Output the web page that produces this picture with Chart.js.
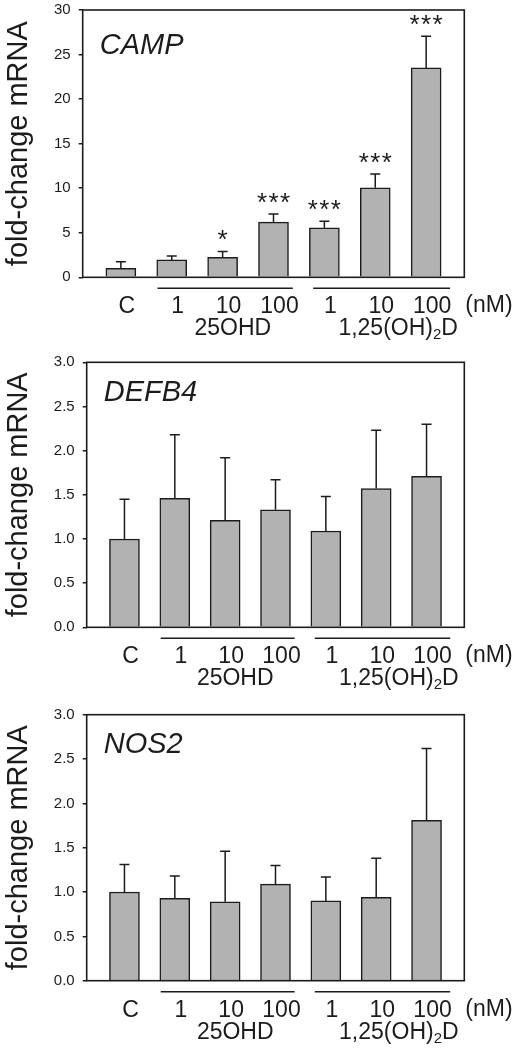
<!DOCTYPE html>
<html>
<head>
<meta charset="utf-8">
<script src="https://cdn.jsdelivr.net/npm/chart.js@4.4.1/dist/chart.umd.min.js"></script>
<style>
  body { margin: 0; background: #fff; width: 526px; height: 1050px; position: relative; overflow: hidden; }
  canvas { position: absolute; left: 0; }
</style>
</head>
<body>
<canvas id="camp" width="526" height="352" style="top:-7px"></canvas>
<canvas id="defb4" width="526" height="345" style="top:345px"></canvas>
<canvas id="nos2" width="526" height="360" style="top:690px"></canvas>
<script>
// dose labels under the bars
const doseLabels = ['C', '1', '10', '100', '1', '10', '100'];

// CAMP
const campMean = [1.0, 1.95, 2.25, 6.2, 5.55, 10.05, 23.5];
const campSd = [0.75, 0.45, 0.65, 0.9, 0.75, 1.55, 3.55];
const campStars = ['', '', '*', '***', '***', '***', '***'];

// DEFB4
const defb4Mean = [1.0, 1.46, 1.21, 1.33, 1.09, 1.57, 1.71];
const defb4Sd = [0.45, 0.72, 0.71, 0.34, 0.39, 0.66, 0.59];

// NOS2
const nos2Mean = [1.0, 0.93, 0.89, 1.09, 0.90, 0.94, 1.81];
const nos2Sd = [0.31, 0.25, 0.57, 0.21, 0.27, 0.44, 0.81];

const ink = '#1c1c1c';
const font = "'Liberation Sans', Arial, Helvetica, sans-serif";

const figurePlugin = {
  id: 'figure',
  afterDatasetsDraw(chart, args, o) {
    const { ctx, chartArea: a, scales: { x, y } } = chart;
    const mean = chart.data.datasets[0].data;
    ctx.save();
    ctx.strokeStyle = ink;
    ctx.fillStyle = ink;
    ctx.lineWidth = 1.5;

    // error bars (upper only) and significance stars
    o.sd.forEach((s, i) => {
      const px = x.getPixelForValue(i);
      const y0 = y.getPixelForValue(mean[i].y);
      const y1 = y.getPixelForValue(mean[i].y + s);
      ctx.beginPath();
      ctx.moveTo(px, y0); ctx.lineTo(px, y1);
      ctx.moveTo(px - 5, y1); ctx.lineTo(px + 5, y1);
      ctx.stroke();
      const st = (o.stars || [])[i] || '';
      ctx.font = '26px ' + font;
      ctx.textAlign = 'center';
      ctx.textBaseline = 'alphabetic';
      for (let k = 0; k < st.length; k++) {
        ctx.fillText('*', px + (k - (st.length - 1) / 2) * 11.5, y1 - 3);
      }
    });

    // frame
    ctx.lineWidth = 1.6;
    ctx.strokeRect(a.left, a.top, a.right - a.left, a.bottom - a.top);

    // gene name
    ctx.font = 'italic 29px ' + font;
    ctx.textAlign = 'left';
    ctx.fillText(o.gene, a.left + 17, a.top + o.geneY);

    // group lines
    ctx.lineWidth = 1.5;
    const gy = a.bottom + 11;
    [[0.72, 3.38], [3.78, 6.47]].forEach(([s, e]) => {
      ctx.beginPath();
      ctx.moveTo(x.getPixelForValue(s), gy);
      ctx.lineTo(x.getPixelForValue(e), gy);
      ctx.stroke();
    });

    // (nM)
    ctx.font = '23px ' + font;
    ctx.fillText('(nM)', a.right + 1, a.bottom + 35);

    // group names
    const by = a.bottom + 58;
    ctx.textAlign = 'center';
    ctx.fillText('25OHD', x.getPixelForValue(2.2), by);
    ctx.textAlign = 'left';
    const w1 = ctx.measureText('1,25(OH)').width;
    ctx.font = '15px ' + font;
    const w2 = ctx.measureText('2').width;
    ctx.font = '23px ' + font;
    const w3 = ctx.measureText('D').width;
    let sx = x.getPixelForValue(5.45) - (w1 + w2 + w3) / 2;
    ctx.fillText('1,25(OH)', sx, by);
    ctx.font = '15px ' + font;
    ctx.fillText('2', sx + w1, by + 4);
    ctx.font = '23px ' + font;
    ctx.fillText('D', sx + w1 + w2, by);
    ctx.restore();
  }
};

function makeChart(id, mean, sd, stars, gene, yMax, step, dec, box) {
  new Chart(document.getElementById(id), {
    type: 'bar',
    data: {
      datasets: [{
        data: mean.map((v, i) => ({ x: i, y: v })),
        backgroundColor: '#b2b2b2',
        borderColor: ink,
        borderWidth: 1.5,
        barThickness: 30
      }]
    },
    options: {
      responsive: false,
      animation: false,
      layout: { padding: { top: box.top, right: box.right, left: 0, bottom: 0 } },
      plugins: {
        legend: { display: false },
        tooltip: { enabled: false },
        figure: { sd: sd, stars: stars, gene: gene, geneY: box.geneY }
      },
      scales: {
        x: {
          type: 'linear',
          offset: false,
          min: -0.75,
          max: 6.75,
          grid: { display: false },
          border: { display: false },
          afterBuildTicks: (s) => { s.ticks = doseLabels.map((_, i) => ({ value: i })); },
          afterFit: (s) => { s.height = box.xh; },
          ticks: {
            color: ink,
            font: { family: font, size: 23 },
            padding: 8,
            labelOffset: 6,
            maxRotation: 0,
            autoSkip: false,
            callback: (v, i) => doseLabels[i]
          }
        },
        y: {
          min: 0,
          max: yMax,
          border: { display: false },
          grid: { drawOnChartArea: false, drawTicks: true, tickLength: 4, color: ink, lineWidth: 1.5 },
          afterFit: (s) => { s.width = box.left; },
          ticks: {
            stepSize: step,
            color: ink,
            font: { family: font, size: 15 },
            padding: 8,
            callback: (v) => v.toFixed(dec)
          },
          title: {
            display: true,
            text: 'fold-change mRNA',
            color: ink,
            font: { family: font, size: 29 },
            padding: { top: 2, bottom: 0 }
          }
        }
      }
    },
    plugins: [figurePlugin]
  });
}

makeChart('camp', campMean, campSd, campStars, 'CAMP', 30, 5, 0,
  { top: 16.3, right: 61.7, left: 82.7, xh: 67.7, geneY: 44 });
makeChart('defb4', defb4Mean, defb4Sd, [], 'DEFB4', 3, 0.5, 1,
  { top: 17.3, right: 61.7, left: 86.7, xh: 62.7, geneY: 38.5 });
makeChart('nos2', nos2Mean, nos2Sd, [], 'NOS2', 3, 0.5, 1,
  { top: 24.7, right: 61.7, left: 86.7, xh: 69.3, geneY: 38.5 });
</script>
</body>
</html>
